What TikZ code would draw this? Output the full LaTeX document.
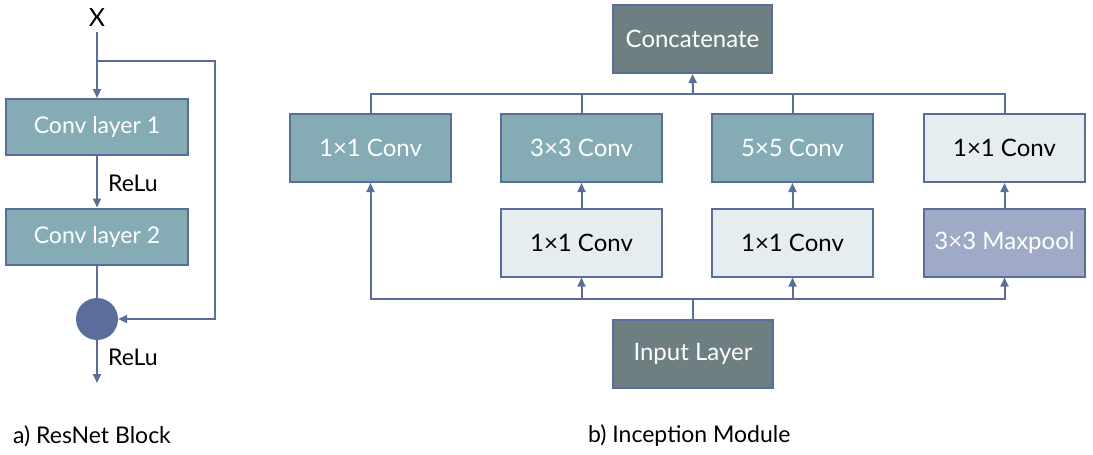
\documentclass[tikz,border=0pt]{standalone}
\usepackage{fontspec}
\setmainfont{Lato}
\usetikzlibrary{arrows.meta}
\definecolor{teal}{HTML}{85ACB5}
\definecolor{lightb}{HTML}{E6EDEF}
\definecolor{darkb}{HTML}{6E7F82}
\definecolor{poolb}{HTML}{9FAAC6}
\definecolor{linec}{HTML}{5B6E9B}
\tikzset{
  box/.style={draw=linec, line width=2pt, minimum width=161pt, minimum height=68pt, inner sep=0pt, font=\fontsize{24}{28}\selectfont},
  tealbox/.style={box, fill=teal, text=white},
  lightbox/.style={box, fill=lightb, text=black},
  darkbox/.style={box, fill=darkb, text=white},
  poolbox/.style={box, fill=poolb, text=white},
  resbox/.style={draw=linec, line width=2pt, fill=teal, text=white, minimum width=182pt, minimum height=56pt, inner sep=0pt, font=\fontsize{23}{27}\selectfont},
  conn/.style={draw=linec, line width=2pt},
  arr/.style={conn, -{Triangle[length=9pt,width=8pt]}},
  lbl/.style={font=\fontsize{23}{27}\selectfont, text=black, inner sep=0pt, anchor=west},
}
\begin{document}
\begin{tikzpicture}[x=1pt,y=-1pt]
\useasboundingbox (0,0) rectangle (1093,455);
% ResNet block
\node[font=\fontsize{25}{29}\selectfont, inner sep=0pt] (x) at (97,18) {X};
\node[resbox] (c1) at (97,127) {Conv layer 1};
\node[resbox] (c2) at (97,236.5) {Conv layer 2};
\node[circle, fill=linec, minimum size=42pt, inner sep=0pt] (sum) at (97,319) {};
\coordinate (split) at (97,61);
\coordinate (out) at (97,383);
\draw[conn] (97,32) -- (split);
\draw[arr] (split) -- (c1.north);
\draw[arr] (split) -- (215,61) -- (215,319) -- (sum.east);
\draw[arr] (c1.south) -- (c2.north);
\draw[conn] (c2.south) -- (sum.north);
\draw[arr] (sum.south) -- (out);
\node[lbl] (r1) at (108,183) {ReLu};
\node[lbl] (r2) at (108,357) {ReLu};
\node[lbl] (capa) at (13,436) {a) ResNet Block};
% Inception module
\node[darkbox, minimum width=159pt] (cat) at (692.5,39) {Concatenate};
\node[tealbox] (t1) at (370.5,148) {1×1 Conv};
\node[tealbox] (t2) at (581.5,148) {3×3 Conv};
\node[tealbox] (t3) at (792.5,148) {5×5 Conv};
\node[lightbox] (t4) at (1004.5,148) {1×1 Conv};
\node[lightbox] (b2) at (581.5,242.5) {1×1 Conv};
\node[lightbox] (b3) at (792.5,242.5) {1×1 Conv};
\node[poolbox] (b4) at (1004.5,242.5) {3×3 Maxpool};
\node[darkbox, minimum width=160pt] (inp) at (693,354) {Input Layer};
\coordinate (tb) at (693,94);
\coordinate (bb) at (693,299);
\draw[conn] (t1.north) |- (tb);
\draw[conn] (t2.north) |- (tb);
\draw[conn] (t3.north) |- (tb);
\draw[conn] (t4.north) |- (tb);
\draw[arr] (tb) -- (cat.south);
\draw[conn] (inp.north) -- (bb);
\draw[arr] (bb) -| (t1.south);
\draw[arr] (bb) -| (b2.south);
\draw[arr] (bb) -| (b3.south);
\draw[arr] (bb) -| (b4.south);
\draw[arr] (b2.north) -- (t2.south);
\draw[arr] (b3.north) -- (t3.south);
\draw[arr] (b4.north) -- (t4.south);
\node[lbl] (capb) at (588,436) {b) Inception Module};
\end{tikzpicture}
\end{document}
